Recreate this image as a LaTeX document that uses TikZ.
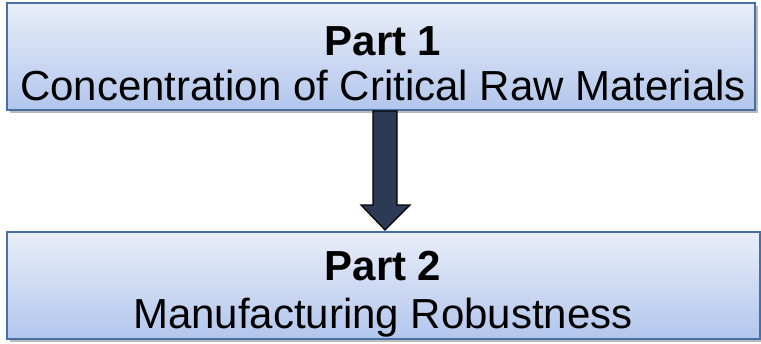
\documentclass[tikz,border=0pt]{standalone}
\usepackage{fontspec}
\setmainfont{Liberation Sans}
\usetikzlibrary{shadows,calc}
\definecolor{boxtop}{HTML}{E9EEF9}
\definecolor{boxbot}{HTML}{B2C6EC}
\definecolor{boxline}{HTML}{4A6FA5}
\definecolor{arrowfill}{HTML}{2D3A55}
\tikzset{
  partbox/.style={draw=boxline, line width=1.5pt, top color=boxtop, bottom color=boxbot,
    drop shadow={shadow xshift=3pt, shadow yshift=-3pt, fill=black!45, opacity=0.6},
    inner sep=0pt, minimum height=107pt},
  boxtext/.style={anchor=base, inner sep=0pt, font=\fontsize{42}{44}\selectfont},
  boldtext/.style={boxtext, font=\fontsize{42}{44}\selectfont\bfseries},
  bigarrow/.style={draw=black, line width=1.2pt, fill=arrowfill, line join=miter}
}
\begin{document}
\begin{tikzpicture}[x=1pt,y=1pt]
\useasboundingbox (0,0) rectangle (761,-343);
\node[partbox, minimum width=748pt] (b1) at (381,-56.5) {};
\node[partbox, minimum width=753pt] (b2) at (383.5,-285.5) {};
\node[boldtext] (p1) at (383,-55) {Part 1};
\node[boxtext] (t1) at (383,-100) {Concentration of Critical Raw Materials};
\node[boldtext] (p2) at (383,-280) {Part 2};
\node[boxtext] (t2) at (383,-328) {Manufacturing Robustness};
\coordinate (as) at (385,-111);
\coordinate (at) at (385,-230);
\draw[bigarrow] ($(as)+(-12,0)$) -- ($(as)+(12,0)$) -- ($(at)+(12,25)$) -- ($(at)+(25,25)$) -- (at) -- ($(at)+(-24,25)$) -- ($(at)+(-12,25)$) -- cycle;
\end{tikzpicture}
\end{document}
